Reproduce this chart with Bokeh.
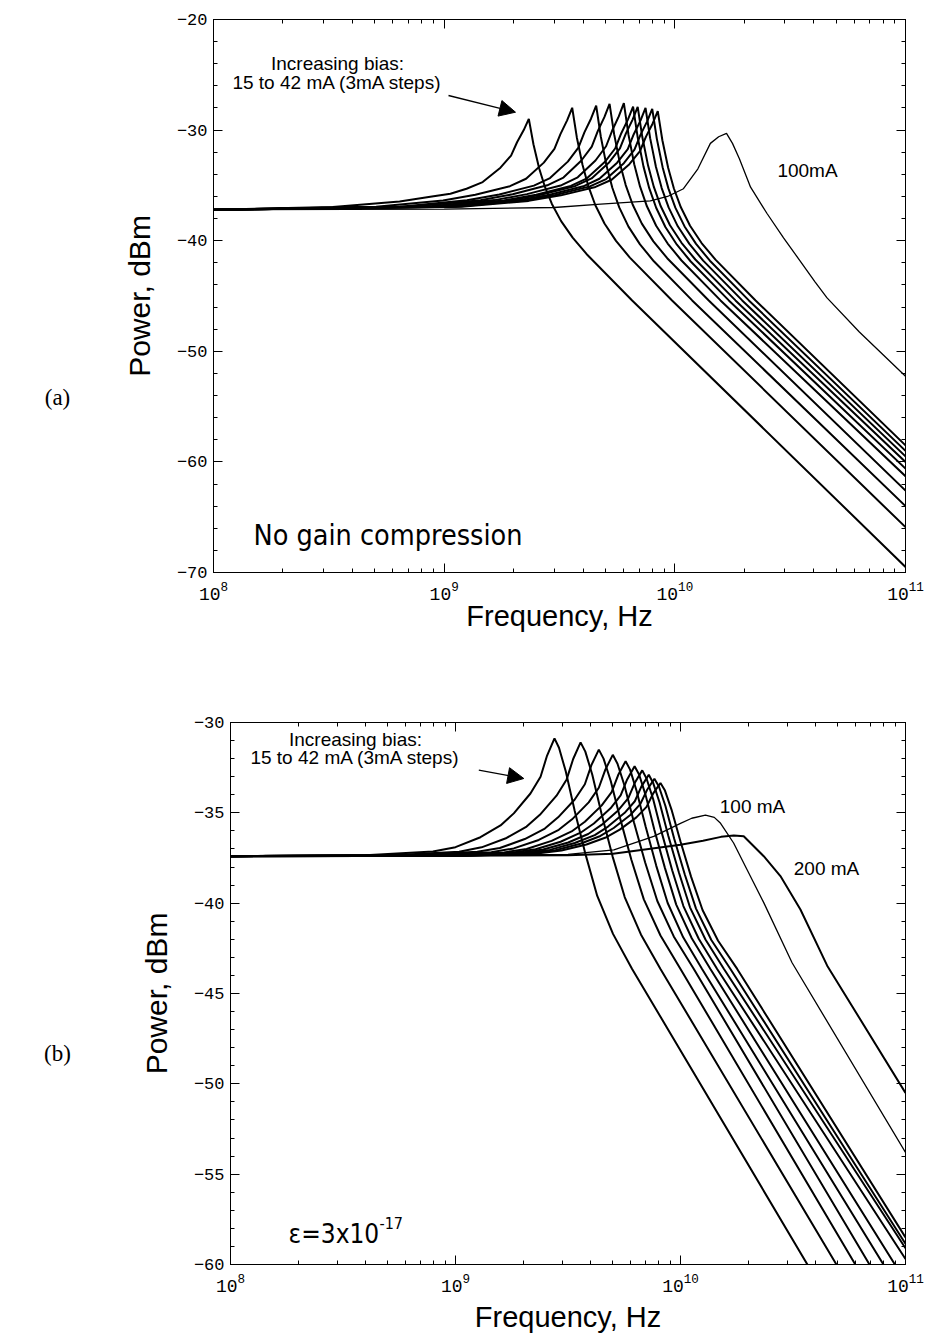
from bokeh.plotting import figure
from bokeh.models import (LogAxis, LinearAxis, LogTicker, SingleIntervalTicker, Label,
                          Arrow, NormalHead, Range1d, CustomJSTickFormatter)
from bokeh.layouts import column, row
from bokeh.embed import file_html
from bokeh.resources import INLINE

# ---------------- data (frequency in GHz, power in dBm) ----------------
# (a) no gain compression, bias 15..42 mA in 3 mA steps, plus 100 mA
bias_a_ma = [15, 18, 21, 24, 27, 30, 33, 36, 39, 42]
freq_a_ghz = [
    [0.1, 0.329, 0.641, 0.885, 1.064, 1.250, 1.469, 1.754, 1.950, 2.070, 2.213, 2.328,
     2.438, 2.582, 2.735, 2.931, 3.214, 3.606, 4.140, 6.531, 100],
    [0.1, 0.507, 0.989, 1.365, 1.928, 2.265, 2.704, 3.006, 3.192, 3.412, 3.589,
     3.758, 3.981, 4.217, 4.519, 4.955, 5.559, 6.383, 9.727, 100],
    [0.1, 0.644, 1.256, 1.734, 2.449, 2.877, 3.436, 3.819, 4.055, 4.335, 4.560,
     4.775, 5.058, 5.358, 5.741, 6.295, 7.063, 8.110, 11.89, 100],
    [0.1, 0.736, 1.435, 1.982, 2.799, 3.289, 3.926, 4.365, 4.634, 4.955, 5.212,
     5.458, 5.781, 6.124, 6.561, 7.194, 8.072, 9.268, 14.03, 100],
    [0.1, 0.849, 1.656, 2.286, 3.228, 3.793, 4.529, 5.035, 5.346, 5.715, 6.012,
     6.295, 6.668, 7.063, 7.568, 8.299, 9.311, 10.69, 15.78, 100],
    [0.1, 0.931, 1.816, 2.506, 3.540, 4.159, 4.966, 5.521, 5.861, 6.266, 6.592,
     6.902, 7.311, 7.745, 8.299, 9.099, 10.21, 11.72, 17.14, 100],
    [0.1, 0.975, 1.901, 2.624, 3.707, 4.355, 5.200, 5.781, 6.138, 6.561, 6.902,
     7.228, 7.656, 8.110, 8.690, 9.528, 10.69, 12.27, 18.32, 100],
    [0.1, 1.054, 2.056, 2.838, 4.009, 4.710, 5.623, 6.252, 6.637, 7.096, 7.464,
     7.816, 8.279, 8.770, 9.397, 10.30, 11.56, 13.27, 19.59, 100],
    [0.1, 1.127, 2.198, 3.034, 4.285, 5.035, 6.012, 6.683, 7.096, 7.586, 7.980,
     8.356, 8.851, 9.376, 10.05, 11.02, 12.36, 14.19, 20.94, 100],
    [0.1, 1.191, 2.323, 3.206, 4.529, 5.321, 6.353, 7.063, 7.499, 8.017, 8.433,
     8.831, 9.354, 9.908, 10.62, 11.64, 13.06, 15.00, 22.39, 100],
]
power_a_dbm = [
    [-37.2, -36.95, -36.45, -36.0, -35.75, -35.3, -34.7, -33.4, -32.3, -31.1, -30.0, -28.98,
     -31.28, -33.47, -35.14, -36.68, -38.23, -39.72, -41.2, -45.4, -69.5],
    [-37.2, -36.92, -36.37, -35.85, -35.07, -34.4, -32.94, -31.7, -30.36, -29.12, -27.98,
     -30.64, -33.16, -35.06, -36.77, -38.45, -40.02, -41.53, -45.4, -65.9],
    [-37.2, -36.92, -36.35, -35.83, -35.02, -34.34, -32.85, -31.59, -30.21, -28.95, -27.78,
     -30.58, -33.23, -35.21, -36.99, -38.73, -40.33, -41.86, -45.4, -64.0],
    [-37.2, -36.91, -36.34, -35.8, -34.99, -34.29, -32.77, -31.49, -30.09, -28.81, -27.62,
     -30.39, -33.01, -34.97, -36.73, -38.46, -40.06, -41.58, -45.4, -62.6],
    [-37.2, -36.91, -36.33, -35.79, -34.98, -34.27, -32.75, -31.46, -30.06, -28.76, -27.57,
     -30.41, -33.09, -35.09, -36.89, -38.65, -40.26, -41.79, -45.4, -61.3],
    [-37.2, -36.92, -36.36, -35.84, -35.05, -34.36, -32.89, -31.64, -30.28, -29.03, -27.87,
     -30.65, -33.28, -35.25, -37.02, -38.76, -40.36, -41.88, -45.4, -60.6],
    [-37.2, -36.92, -36.36, -35.84, -35.05, -34.37, -32.9, -31.66, -30.3, -29.05, -27.9,
     -30.63, -33.21, -35.14, -36.89, -38.6, -40.19, -41.7, -45.4, -60.0],
    [-37.2, -36.92, -36.37, -35.86, -35.08, -34.4, -32.95, -31.72, -30.37, -29.14, -28.0,
     -30.73, -33.31, -35.24, -36.99, -38.7, -40.29, -41.8, -45.4, -59.5],
    [-37.2, -36.93, -36.38, -35.87, -35.09, -34.43, -32.99, -31.76, -30.43, -29.21, -28.08,
     -30.79, -33.35, -35.27, -37.01, -38.71, -40.29, -41.81, -45.4, -59.0],
    [-37.2, -36.93, -36.4, -35.9, -35.14, -34.49, -33.08, -31.89, -30.59, -29.4, -28.29,
     -30.92, -33.41, -35.28, -36.98, -38.65, -40.21, -41.71, -45.4, -58.5],
]
freq_a_100ma_ghz = [0.1, 1.0, 3.0, 4.77, 7.83, 9.3, 10.9, 12.59, 14.26, 15.49, 16.75,
                    17.78, 19.05, 21.3, 25.1, 29.6, 40.6, 45.7, 63.1, 100]
power_a_100ma_dbm = [-37.2, -37.15, -37.0, -36.7, -36.4, -36.0, -35.3, -33.5, -31.2, -30.6, -30.3,
                     -31.2, -32.6, -35.16, -37.54, -39.74, -43.74, -45.17, -48.25, -52.25]

# (b) epsilon = 3e-17, bias 15..42 mA in 3 mA steps, plus 100 mA and 200 mA
bias_b_ma = [15, 18, 21, 24, 27, 30, 33, 36, 39, 42]
freq_b_ghz = [
    [0.1, 0.398, 0.794, 1.0, 1.291, 1.585, 1.816, 2.153, 2.388, 2.553, 2.754,
     2.884, 3.090, 3.388, 3.784, 4.266, 5.012, 6.095, 36.64, 39.81],
    [0.1, 0.520, 1.038, 1.306, 1.687, 2.070, 2.371, 2.812, 3.119, 3.334, 3.597,
     3.776, 4.055, 4.457, 4.989, 5.649, 6.668, 8.147, 49.32, 53.70],
    [0.1, 0.627, 1.250, 1.574, 2.032, 2.495, 2.858, 3.388, 3.758, 4.018, 4.335,
     4.550, 4.898, 5.395, 6.053, 6.871, 8.147, 10.0, 59.84, 64.57],
    [0.1, 0.723, 1.442, 1.816, 2.344, 2.877, 3.296, 3.908, 4.335, 4.634, 5.0,
     5.248, 5.636, 6.209, 6.966, 7.889, 9.333, 11.46, 69.18, 74.13],
    [0.1, 0.824, 1.644, 2.070, 2.673, 3.281, 3.758, 4.457, 4.943, 5.284, 5.702,
     5.970, 6.383, 6.998, 7.798, 8.770, 10.28, 12.47, 79.80, 85.11],
    [0.1, 0.904, 1.803, 2.270, 2.931, 3.597, 4.121, 4.887, 5.420, 5.794, 6.252,
     6.546, 6.998, 7.656, 8.531, 9.572, 11.22, 13.58, 89.74, 95.50],
    [0.1, 0.977, 1.950, 2.455, 3.170, 3.890, 4.457, 5.284, 5.861, 6.266, 6.761,
     7.063, 7.551, 8.260, 9.183, 10.30, 12.05, 14.55, 100],
    [0.1, 1.045, 2.084, 2.624, 3.388, 4.159, 4.764, 5.649, 6.266, 6.699, 7.228,
     7.551, 8.072, 8.831, 9.840, 11.02, 12.91, 15.60, 100],
    [0.1, 1.107, 2.208, 2.780, 3.589, 4.406, 5.047, 5.984, 6.637, 7.096, 7.656,
     8.017, 8.570, 9.376, 10.45, 11.72, 13.71, 16.67, 100],
    [0.1, 1.178, 2.350, 2.958, 3.819, 4.688, 5.370, 6.368, 7.063, 7.551, 8.147,
     8.531, 9.120, 10.0, 11.14, 12.53, 14.69, 17.86, 100],
]
power_b_dbm = [
    [-37.4, -37.35, -37.14, -36.9, -36.35, -35.7, -35.03, -33.93, -33.0, -31.83, -30.88,
     -31.4, -32.7, -34.9, -37.3, -39.6, -41.7, -43.64, -60.0, -60.8],
    [-37.4, -37.35, -37.15, -36.91, -36.39, -35.76, -35.11, -34.05, -33.15, -32.02, -31.10,
     -31.61, -32.89, -35.05, -37.41, -39.66, -41.73, -43.64, -60.0, -60.8],
    [-37.4, -37.35, -37.16, -36.95, -36.45, -35.87, -35.25, -34.26, -33.42, -32.36, -31.50,
     -32.0, -33.24, -35.32, -37.61, -39.79, -41.79, -43.64, -60.0, -60.7],
    [-37.4, -37.36, -37.18, -36.97, -36.5, -35.94, -35.36, -34.42, -33.61, -32.61, -31.79,
     -32.28, -33.49, -35.52, -37.75, -39.88, -41.84, -43.64, -60.0, -60.6],
    [-37.4, -37.36, -37.19, -37.0, -36.55, -36.03, -35.49, -34.6, -33.85, -32.91, -32.14,
     -32.61, -33.79, -35.76, -37.92, -39.99, -41.89, -43.64, -60.0, -60.6],
    [-37.4, -37.36, -37.2, -37.02, -36.6, -36.1, -35.59, -34.75, -34.04, -33.15, -32.42,
     -32.88, -34.02, -35.95, -38.06, -40.08, -41.94, -43.64, -60.0, -60.6],
    [-37.4, -37.36, -37.21, -37.03, -36.64, -36.17, -35.67, -34.87, -34.19, -33.34, -32.65,
     -33.1, -34.22, -36.11, -38.18, -40.16, -41.97, -43.64, -59.7],
    [-37.4, -37.36, -37.22, -37.05, -36.67, -36.23, -35.76, -35.0, -34.36, -33.55, -32.89,
     -33.33, -34.43, -36.28, -38.3, -40.23, -42.01, -43.64, -59.1],
    [-37.4, -37.37, -37.23, -37.07, -36.71, -36.28, -35.84, -35.12, -34.5, -33.74, -33.11,
     -33.54, -34.62, -36.43, -38.41, -40.3, -42.04, -43.64, -58.85],
    [-37.4, -37.37, -37.24, -37.09, -36.75, -36.35, -35.93, -35.25, -34.67, -33.94, -33.35,
     -33.77, -34.82, -36.59, -38.53, -40.38, -42.08, -43.64, -58.5],
]
freq_b_100ma_ghz = [0.1, 3.162, 5.058, 7.603, 10.0, 11.22, 12.91, 14.13, 15.07, 17.22,
                    19.77, 23.44, 31.33, 100]
power_b_100ma_dbm = [-37.4, -37.3, -37.05, -36.3, -35.58, -35.3, -35.13, -35.25, -35.58, -36.67,
                     -38.15, -39.97, -43.3, -53.8]
freq_b_200ma_ghz = [0.1, 3.162, 5.012, 10.0, 12.59, 15.14, 17.26, 19.10, 23.44, 27.80,
                    34.12, 44.87, 100]
power_b_200ma_dbm = [-37.4, -37.35, -37.27, -36.77, -36.55, -36.33, -36.26, -36.3, -37.4, -38.5,
                     -40.35, -43.46, -50.5]

x_limits_hz = (1e8, 1e11)
y_limits_a = (-70, -20)
y_limits_b = (-60, -30)

TICK_FONT = "Liberation Mono"
SANS = "Liberation Sans"
NARROW = "'DejaVu Sans Condensed', 'Liberation Sans Narrow', 'Liberation Sans'"
SIDE_W = 100


def hz(values_ghz):
    return [v * 1e9 for v in values_ghz]


def make_panel(y_limits, y_interval, height, left, top, bottom, title_standoff):
    p = figure(width=929 - SIDE_W, height=height, x_axis_type="log",
               x_range=Range1d(*x_limits_hz), y_range=Range1d(*y_limits),
               min_border_left=left, min_border_right=24,
               min_border_top=top, min_border_bottom=bottom,
               output_backend="svg", toolbar_location=None,
               background_fill_color="white", border_fill_color="white")
    p.frame_align = False
    p.xgrid.visible = False
    p.ygrid.visible = False
    p.outline_line_color = "black"
    p.outline_line_width = 1

    xa = p.below[0]
    ya = p.left[0]
    xt = LogTicker(mantissas=[1], desired_num_ticks=4, num_minor_ticks=10)
    yt = SingleIntervalTicker(interval=y_interval, num_minor_ticks=5)
    blank = CustomJSTickFormatter(code="return ''")

    xa.ticker = xt
    ya.ticker = yt
    top_ax = LogAxis(ticker=xt, formatter=blank)
    right_ax = LinearAxis(ticker=yt, formatter=blank)
    p.add_layout(top_ax, "above")
    p.add_layout(right_ax, "right")

    for ax in [xa, ya, top_ax, right_ax]:
        ax.major_tick_in = 9
        ax.major_tick_out = 0
        ax.minor_tick_in = 4
        ax.minor_tick_out = 0
        ax.axis_line_color = "black"
        ax.major_tick_line_color = "black"
        ax.minor_tick_line_color = "black"
        ax.major_label_text_font = TICK_FONT
        ax.major_label_text_color = "black"
    for ax in [top_ax, right_ax]:
        ax.major_label_standoff = 0
        ax.major_label_text_font_size = "1px"

    xa.major_label_text_font_size = "18px"
    xa.major_label_standoff = 8
    ya.major_label_text_font_size = "17px"
    ya.major_label_standoff = 6

    xa.axis_label = "Frequency, Hz"
    ya.axis_label = "Power, dBm"
    for ax in [xa, ya]:
        ax.axis_label_text_font = SANS
        ax.axis_label_text_font_style = "normal"
        ax.axis_label_text_color = "black"
    xa.axis_label_text_font_size = "29px"
    ya.axis_label_text_font_size = "30px"
    xa.axis_label_standoff = title_standoff
    ya.axis_label_standoff = 18
    return p


def side_panel(height, y_center, text):
    s = figure(width=SIDE_W, height=height, x_range=Range1d(0, SIDE_W), y_range=Range1d(0, height),
               x_axis_location=None, y_axis_location=None, min_border=0,
               output_backend="svg", toolbar_location=None,
               background_fill_color="white", border_fill_color="white")
    s.frame_align = False
    s.grid.visible = False
    s.outline_line_color = None
    s.add_layout(Label(x=57, y=height - y_center, text=text, text_font="Liberation Serif",
                       text_font_size="23px", text_color="black",
                       text_align="center", text_baseline="middle"))
    return s


def label(p, x, y, text, size, font=SANS, align="center", baseline="middle"):
    p.add_layout(Label(x=x, y=y, x_units="screen", y_units="screen", text=text,
                       text_font=font, text_font_size=size, text_color="black",
                       text_align=align, text_baseline=baseline))


# ---------------- panel (a) ----------------
pa = make_panel(y_limits_a, 10, 650, 213 - SIDE_W, 19, 78, -3)
for f, pw in zip(freq_a_ghz, power_a_dbm):
    pa.line(hz(f), pw, line_color="black", line_width=2.0)
pa.line(hz(freq_a_100ma_ghz), power_a_100ma_dbm, line_color="black", line_width=1.3)

label(pa, 124, 509, "Increasing bias:", "19px")
label(pa, 124, 490, "15 to 42 mA (3mA steps)", "19px")
label(pa, 594, 402, "100mA", "19px")
label(pa, 40, 37, "No gain compression", "28.5px", font=NARROW, align="left")
pa.add_layout(Arrow(x_start=235, y_start=477, x_end=302, y_end=460.3,
                    start_units="screen", end_units="screen", line_width=1.3,
                    end=NormalHead(size=16, fill_color="black", line_color="black")))
sa = side_panel(650, 397, "(a)")

# ---------------- panel (b) ----------------
pb = make_panel(y_limits_b, 5, 685, 230 - SIDE_W, 72, 67, 6)
for f, pw in zip(freq_b_ghz, power_b_dbm):
    pb.line(hz(f), pw, line_color="black", line_width=2.0)
pb.line(hz(freq_b_100ma_ghz), power_b_100ma_dbm, line_color="black", line_width=1.3)
pb.line(hz(freq_b_200ma_ghz), power_b_200ma_dbm, line_color="black", line_width=2.0)

label(pb, 125, 525, "Increasing bias:", "19px")
label(pb, 125, 506.7, "15 to 42 mA (3mA steps)", "19px")
label(pb, 522, 457.7, "100 mA", "19px")
label(pb, 596, 396, "200 mA", "19px")
label(pb, 58, 31, "\u03b5=3x10", "26px", font=NARROW, align="left")
label(pb, 149, 42, "-17", "16px", font=NARROW, align="left")
pb.add_layout(Arrow(x_start=248.3, y_start=494.4, x_end=293.3, y_end=486,
                    start_units="screen", end_units="screen", line_width=1.3,
                    end=NormalHead(size=16, fill_color="black", line_color="black")))
sb = side_panel(685, 1053 - 650, "(b)")

layout = column(row(sa, pa, spacing=0), row(sb, pb, spacing=0), spacing=0)
open("out.html", "w").write(file_html(layout, INLINE))
